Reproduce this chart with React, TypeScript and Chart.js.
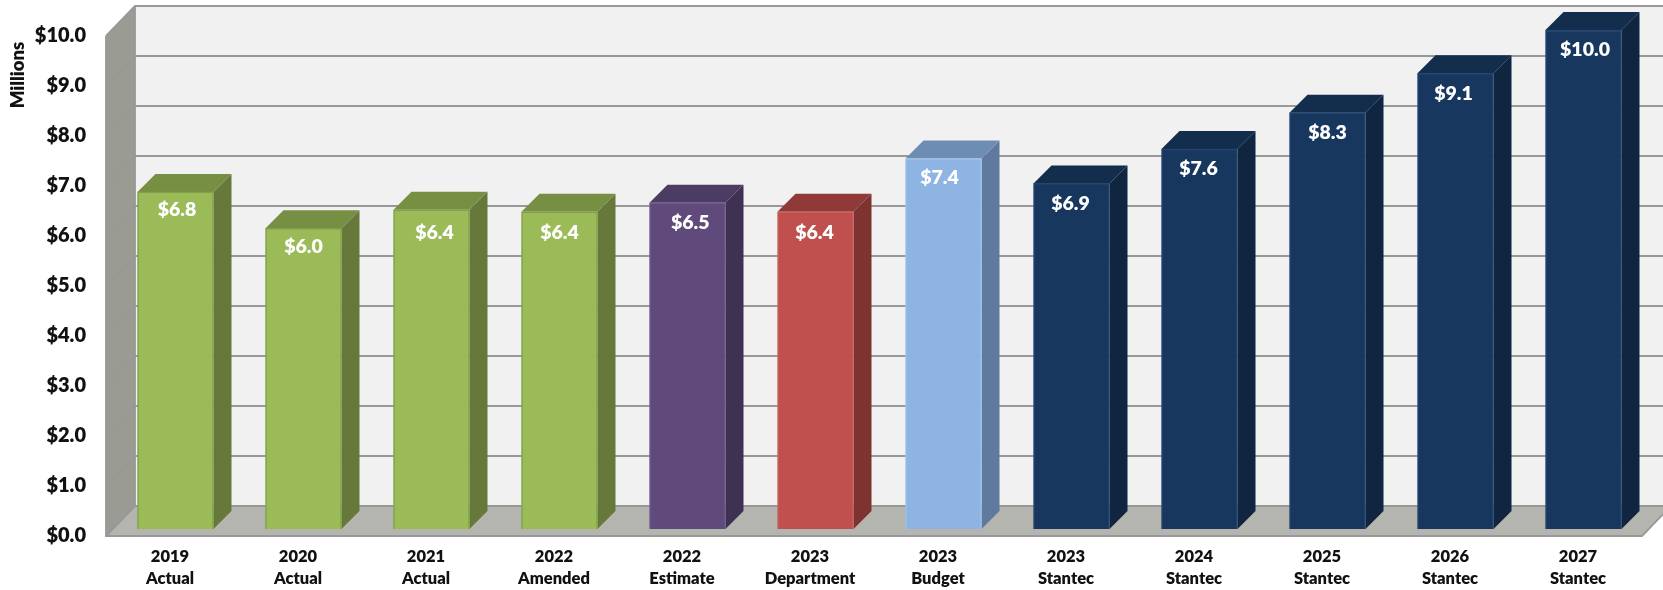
import React, { useEffect, useRef } from "react";
import { Chart, registerables } from "chart.js";

Chart.register(...registerables);

const categories = [
  ["2019", "Actual"], ["2020", "Actual"], ["2021", "Actual"], ["2022", "Amended"],
  ["2022", "Estimate"], ["2023", "Department"], ["2023", "Budget"], ["2023", "Stantec"],
  ["2024", "Stantec"], ["2025", "Stantec"], ["2026", "Stantec"], ["2027", "Stantec"],
];
const values = [6.77, 6.04, 6.41, 6.37, 6.55, 6.37, 7.44, 6.94, 7.63, 8.36, 9.15, 10.02];
const valueLabels = ["$6.8", "$6.0", "$6.4", "$6.4", "$6.5", "$6.4", "$7.4", "$6.9", "$7.6", "$8.3", "$9.1", "$10.0"];
const green = ["#9BBB59", "#66793A", "#778F42", "#82A04A"];
const purple = ["#604A7B", "#3F3151", "#4C3B62", "#6E5A8A"];
const red = ["#C0504D", "#7F3331", "#8F3A38", "#C8605D"];
const blue = ["#8DB4E2", "#5F7A9E", "#6E8DB5", "#A0C0E8"];
const navy = ["#17375E", "#10253F", "#132D4D", "#25466F"];
const palette = [green, green, green, green, purple, red, blue, navy, navy, navy, navy, navy];
// Hand-placed label offsets from each bar's top centre, as in the source chart.
const labelNudgeX = [1.5, 0, 3, 0, 2.7, -1, -4, -1, -1, 0, -2, 1.5];
const labelNudgeY = [18, 18.7, 23.3, 20.7, 19.6, 21.3, 19.4, 20, 19.3, 19.6, 20, 20];

const FONT = "Lato";
const WALL_DX = 29;
const WALL_DY = -30;
const BAR_DX = 18;
const BAR_DY = -18;
const BAR_SHIFT = 5.5;

const poly = (ctx: CanvasRenderingContext2D, pts: number[][], fill: string) => {
  ctx.beginPath();
  pts.forEach((p, i) => (i ? ctx.lineTo(p[0], p[1]) : ctx.moveTo(p[0], p[1])));
  ctx.closePath();
  ctx.fillStyle = fill;
  ctx.fill();
};

const scene = {
  id: "scene",
  beforeDatasetsDraw(chart: any) {
    const { ctx, chartArea: a, scales } = chart;
    const y = scales.y;
    const bx = a.left + WALL_DX;
    const rx = a.right + WALL_DX;
    const top = y.getPixelForValue(10);
    const bottom = y.getPixelForValue(0);
    ctx.save();
    poly(ctx, [[bx, top + WALL_DY], [rx, top + WALL_DY], [rx, bottom + WALL_DY], [bx, bottom + WALL_DY]], "#F1F1F1");
    poly(ctx, [[a.left, top], [bx, top + WALL_DY], [bx, bottom + WALL_DY], [a.left, bottom]], "#9A9C94");
    poly(ctx, [[a.left, bottom], [bx, bottom + WALL_DY], [rx, bottom + WALL_DY], [a.right, bottom]], "#B3B5AE");
    ctx.lineWidth = 1.8;
    ctx.strokeStyle = "#989898";
    y.ticks.forEach((t: any) => {
      const py = y.getPixelForValue(t.value);
      ctx.beginPath();
      ctx.moveTo(a.left, py);
      ctx.lineTo(bx, py + WALL_DY);
      ctx.lineTo(rx, py + WALL_DY);
      ctx.stroke();
    });
    ctx.beginPath();
    ctx.moveTo(bx, top + WALL_DY);
    ctx.lineTo(bx, bottom + WALL_DY);
    ctx.moveTo(a.left, top);
    ctx.lineTo(a.left, bottom);
    ctx.lineTo(a.right, bottom);
    ctx.lineTo(rx, bottom + WALL_DY);
    ctx.stroke();

    const meta = chart.getDatasetMeta(0);
    ctx.translate(BAR_SHIFT, 0);
    meta.data.forEach((bar: any, i: number) => {
      const p = palette[i];
      const l = bar.x - bar.width / 2;
      const r = bar.x + bar.width / 2;
      poly(ctx, [[r, bar.y], [r + BAR_DX, bar.y + BAR_DY], [r + BAR_DX, bar.base + BAR_DY], [r, bar.base]], p[1]);
      poly(ctx, [[l, bar.y], [l + BAR_DX, bar.y + BAR_DY], [r + BAR_DX, bar.y + BAR_DY], [r, bar.y]], p[2]);
    });
  },
  afterDatasetsDraw(chart: any) {
    const { ctx } = chart;
    ctx.restore();
    const meta = chart.getDatasetMeta(0);
    ctx.save();
    ctx.fillStyle = "#FFFFFF";
    ctx.font = `800 19.5px ${FONT}`;
    ctx.textAlign = "center";
    ctx.textBaseline = "middle";
    meta.data.forEach((bar: any, i: number) => {
      ctx.fillText(valueLabels[i], bar.x + BAR_SHIFT + labelNudgeX[i], bar.y + labelNudgeY[i]);
    });
    ctx.restore();
    ctx.save();
    ctx.translate(18, 75);
    ctx.rotate(-Math.PI / 2);
    ctx.fillStyle = "#111111";
    ctx.font = `800 18.5px ${FONT}`;
    ctx.textAlign = "center";
    ctx.textBaseline = "middle";
    ctx.fillText("Millions", 0, 0);
    ctx.restore();
  },
};

export default function App() {
  const ref = useRef<HTMLCanvasElement>(null);
  useEffect(() => {
    if (!ref.current) return;
    const chart = new Chart(ref.current, {
      type: "bar",
      data: {
        labels: categories,
        datasets: [{
          data: values,
          yAxisID: "barY",
          backgroundColor: palette.map((p) => p[0]),
          borderColor: palette.map((p) => p[3]),
          borderWidth: 1.5,
          barThickness: 76,
          clip: false,
        }],
      },
      options: {
        responsive: false,
        animation: false,
        devicePixelRatio: 1,
        layout: { padding: { top: 36, right: 21, left: 0, bottom: 0 } },
        plugins: { legend: { display: false }, tooltip: { enabled: false } },
        scales: {
          x: {
            grid: { display: false, drawTicks: false },
            border: { display: false },
            afterFit: (s: any) => { s.height = 54; },
            ticks: {
              maxRotation: 0, autoSkip: false, padding: 10, color: "#111111",
              font: { family: FONT, size: 16.5, weight: "800", lineHeight: 1.3 },
            },
          },
          y: {
            min: 0, max: 10,
            grid: { display: false, drawTicks: false },
            border: { display: false },
            afterFit: (s: any) => { s.width = 106; },
            ticks: {
              stepSize: 1, padding: 20, color: "#111111",
              font: { family: FONT, size: 20, weight: "800" },
              callback: (v: any) => "$" + Number(v).toFixed(1),
            },
          },
          barY: { display: false, min: -0.14, max: 9.9 },
        },
      },
      plugins: [scene],
    } as any);
    return () => chart.destroy();
  }, []);
  return <canvas ref={ref} width={1663} height={590} style={{ position: "fixed", left: 0, top: 0, display: "block" }} />;
}
